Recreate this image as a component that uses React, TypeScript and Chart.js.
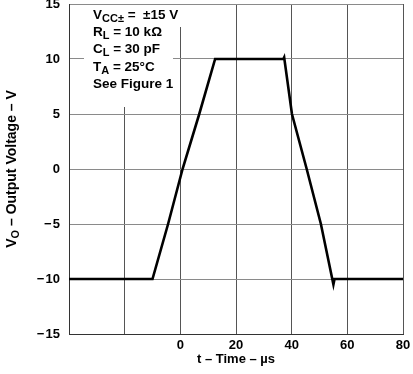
import React, { useEffect, useRef } from "react";
import { Chart, registerables } from "chart.js";

Chart.register(...registerables);

const timeUs = [-40, -10, -4.4, 0.8, 6.8, 12.5, 37.0, 37.3, 40.1, 45.4, 50.5, 55.0, 55.4, 80];
const outputV = [-10, -10, -5, 0, 5, 10, 10, 10.15, 5, 0, -5, -10.5, -10, -10];
const xTicks = [-40, -20, 0, 20, 40, 60, 80];
const yTicks = [-15, -10, -5, 0, 5, 10, 15];

type Seg = { t: string; sub?: boolean };
const noteLines: Seg[][] = [
  [{ t: "V" }, { t: "CC\u00B1", sub: true }, { t: " =  \u00B115 V" }],
  [{ t: "R" }, { t: "L", sub: true }, { t: " = 10 k\u03A9" }],
  [{ t: "C" }, { t: "L", sub: true }, { t: " = 30 pF" }],
  [{ t: "T" }, { t: "A", sub: true }, { t: " = 25\u00B0C" }],
  [{ t: "See Figure 1" }],
];
const yTitle: Seg[] = [{ t: "V" }, { t: "O", sub: true }, { t: " \u2013 Output Voltage \u2013 V" }];
const xTitle = "t \u2013 Time \u2013 \u00B5s";

const FAMILY = "'Liberation Sans', Arial, Helvetica, sans-serif";

function drawSegs(ctx: CanvasRenderingContext2D, segs: Seg[], x: number, y: number, size: number, subSize: number, align: "left" | "center") {
  const font = (s: number) => `bold ${s}px ${FAMILY}`;
  let total = 0;
  for (const s of segs) {
    ctx.font = font(s.sub ? subSize : size);
    total += ctx.measureText(s.t).width;
  }
  let cx = align === "center" ? x - total / 2 : x;
  ctx.textAlign = "left";
  ctx.textBaseline = "alphabetic";
  for (const s of segs) {
    ctx.font = font(s.sub ? subSize : size);
    ctx.fillText(s.t, cx, s.sub ? y + 3 : y);
    cx += ctx.measureText(s.t).width;
  }
}

const decorPlugin = {
  id: "decor",
  beforeDatasetsDraw(chart: any) {
    const { ctx, chartArea } = chart;
    const { left, top, right, bottom } = chartArea;
    ctx.save();
    // white box behind the condition notes
    ctx.fillStyle = "#ffffff";
    ctx.fillRect(left + 15, top + 1, 89, 102);
    ctx.fillRect(left + 100, top + 1, 20, 22);
    ctx.fillStyle = "#000000";
    noteLines.forEach((line, i) => {
      drawSegs(ctx, line, left + 24, top + 15 + i * 17.2, 13.5, 11, "left");
    });
    // x title
    ctx.font = `bold 13px ${FAMILY}`;
    ctx.textAlign = "center";
    ctx.textBaseline = "alphabetic";
    ctx.fillText(xTitle, (left + right) / 2, 363);
    // y title
    ctx.translate(16, (top + bottom) / 2);
    ctx.rotate(-Math.PI / 2);
    drawSegs(ctx, yTitle, 0, 0, 14, 11, "center");
    ctx.restore();
  },
};

export default function App() {
  const ref = useRef<HTMLCanvasElement>(null);
  useEffect(() => {
    document.body.style.margin = "0";
    const chart = new Chart(ref.current!, {
      type: "line",
      data: {
        datasets: [
          {
            data: timeUs.map((x, i) => ({ x, y: outputV[i] })),
            borderColor: "#000000",
            borderWidth: 2.6,
            pointRadius: 0,
            tension: 0,
            fill: false,
          },
        ],
      },
      options: {
        responsive: false,
        animation: false,
        layout: { padding: { top: 4, right: 10, left: 0, bottom: 0 } },
        plugins: { legend: { display: false }, tooltip: { enabled: false }, title: { display: false } },
        scales: {
          x: {
            type: "linear",
            min: -40,
            max: 80,
            afterBuildTicks: (s: any) => { s.ticks = xTicks.map((v) => ({ value: v })); },
            afterFit: (s: any) => { s.height = 40; s.paddingLeft = 0; s.paddingRight = 0; },
            ticks: {
              padding: 4,
              color: "#000",
              font: { family: FAMILY, size: 13, weight: "bold" },
              callback: (v: any) => (Number(v) < 0 ? "" : String(v)),
              maxRotation: 0,
              autoSkip: false,
            },
            grid: { color: "#555555", lineWidth: 1, drawTicks: false },
            border: { color: "#333333", width: 1 },
          },
          y: {
            type: "linear",
            min: -15,
            max: 15,
            afterBuildTicks: (s: any) => { s.ticks = yTicks.map((v) => ({ value: v })); },
            afterFit: (s: any) => { s.width = 69; s.paddingTop = 0; s.paddingBottom = 0; },
            ticks: {
              padding: 9,
              color: "#000",
              font: { family: FAMILY, size: 13, weight: "bold" },
              callback: (v: any) => (Number(v) < 0 ? "\u2212\u200A" + Math.abs(Number(v)) : String(v)),
              autoSkip: false,
            },
            grid: { color: "#8a8a8a", lineWidth: 1, drawTicks: false },
            border: { color: "#333333", width: 1 },
          },
        },
      },
      plugins: [decorPlugin],
    } as any);
    return () => chart.destroy();
  }, []);
  return (
    <div style={{ width: 413, height: 374 }}>
      <canvas ref={ref} width={413} height={374} />
    </div>
  );
}
